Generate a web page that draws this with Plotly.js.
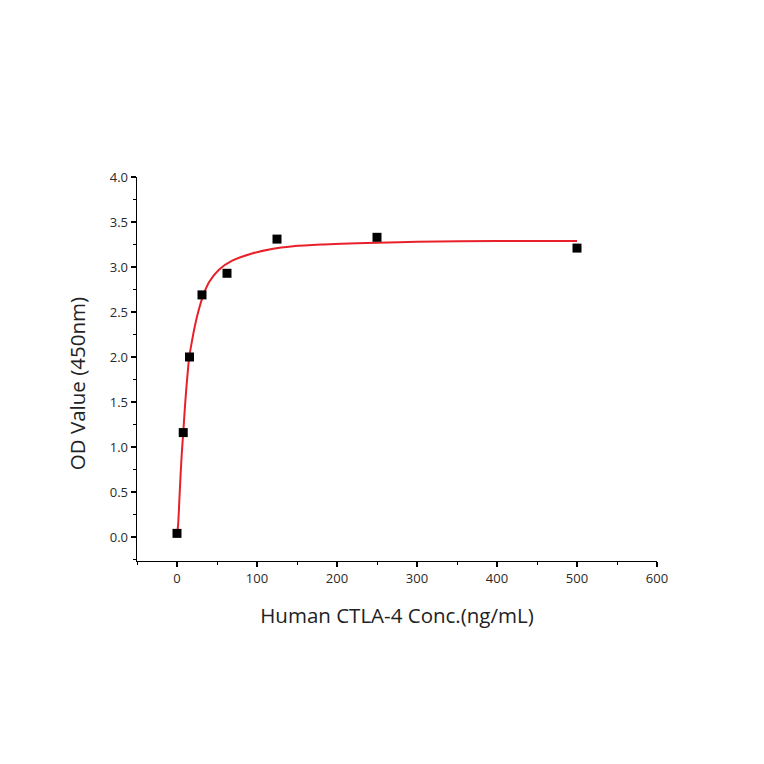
<!DOCTYPE html>
<html>
<head>
<meta charset="utf-8">
<script src="https://cdn.plot.ly/plotly-3.0.1.min.js"></script>
<style>
  html, body { margin: 0; padding: 0; background: #fff; }
  #chart { width: 764px; height: 764px; }
</style>
</head>
<body>
<div id="chart"></div>
<script>
// measured points (concentration, OD)
const concX = [0, 7.8, 15.6, 31.25, 62.5, 125, 250, 500];
const odY = [0.04, 1.16, 2.0, 2.69, 2.93, 3.31, 3.33, 3.21];

// fitted curve
const fitX = [0, 1.5, 3, 4.6, 6, 7.8, 9.5, 11.2, 13, 15.3, 18.6, 22, 25.6, 31.8, 40, 52.4, 69, 93.8, 118.6, 145, 180, 250, 300, 400, 500];
const fitY = [0.02, 0.15, 0.42, 0.71, 0.93, 1.16, 1.39, 1.6, 1.79, 2.0, 2.17, 2.33, 2.47, 2.66, 2.83, 2.97, 3.07, 3.15, 3.2, 3.23, 3.25, 3.27, 3.28, 3.29, 3.29];

const axisFont = {family: 'Open Sans, sans-serif', size: 13, color: '#2a2a2a'};
const titleFont = {family: 'Open Sans, sans-serif', size: 20.5, color: '#222'};

const fit = {
  x: fitX,
  y: fitY,
  mode: 'lines',
  line: {color: '#e8202a', width: 2, shape: 'spline', smoothing: 0.8},
  hoverinfo: 'skip'
};

const pts = {
  x: concX,
  y: odY,
  mode: 'markers',
  marker: {symbol: 'square', size: 9, color: '#000'}
};

const layout = {
  width: 764,
  height: 764,
  margin: {l: 137, r: 107, t: 177, b: 203},
  paper_bgcolor: '#fff',
  plot_bgcolor: '#fff',
  showlegend: false,
  xaxis: {
    range: [-50, 600],
    tickvals: [0, 100, 200, 300, 400, 500, 600],
    ticks: 'outside',
    ticklen: 5,
    tickwidth: 1.2,
    tickcolor: '#000',
    minor: {dtick: 50, tick0: 0, ticks: 'outside', ticklen: 3, tickcolor: '#000', tickwidth: 1},
    showline: true,
    linecolor: '#000',
    linewidth: 1.4,
    showgrid: false,
    zeroline: false,
    tickfont: axisFont,
    title: {text: 'Human CTLA-4 Conc.(ng/mL)', font: titleFont, standoff: 22}
  },
  yaxis: {
    range: [-0.267, 4.0],
    tickvals: [0, 0.5, 1, 1.5, 2, 2.5, 3, 3.5, 4],
    tickformat: '.1f',
    ticks: 'outside',
    ticklen: 5,
    tickwidth: 1.2,
    tickcolor: '#000',
    minor: {dtick: 0.25, tick0: 0, ticks: 'outside', ticklen: 3, tickcolor: '#000', tickwidth: 1},
    showline: true,
    linecolor: '#000',
    linewidth: 1.4,
    showgrid: false,
    zeroline: false,
    tickfont: axisFont
  },
  // y title sits a bit below the axis centre in the original
  annotations: [{
    text: 'OD Value (450nm)',
    xref: 'paper', yref: 'paper',
    x: -0.115, y: 0.461,
    xanchor: 'center', yanchor: 'middle',
    textangle: -90,
    showarrow: false,
    font: titleFont
  }]
};

Plotly.newPlot('chart', [fit, pts], layout, {displayModeBar: false, staticPlot: true});
</script>
</body>
</html>
